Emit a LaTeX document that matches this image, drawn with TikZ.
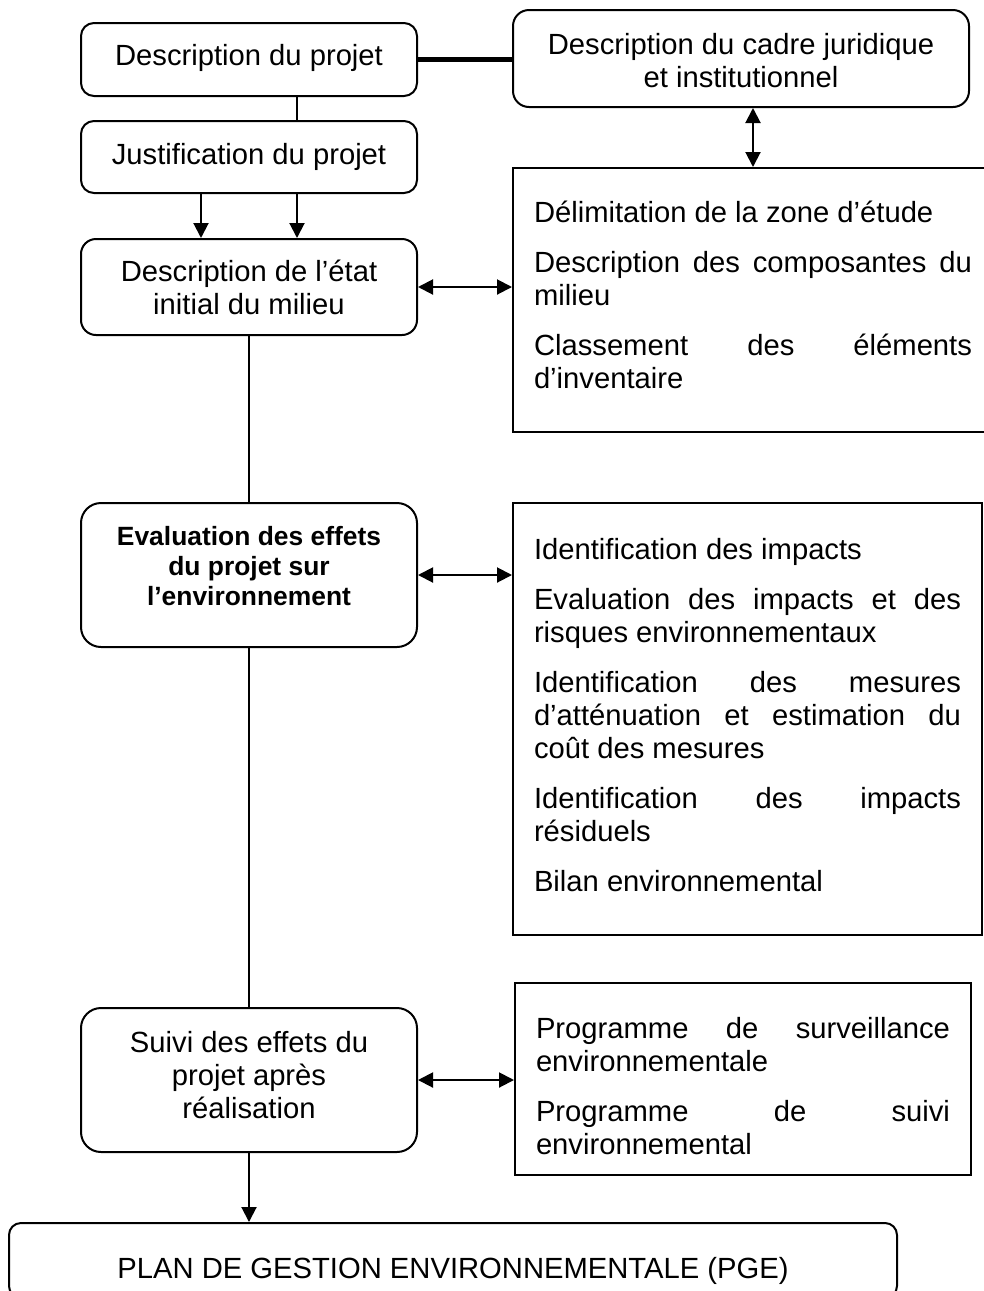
\documentclass[tikz,border=0pt]{standalone}
\usepackage{fontspec}
\setmainfont{Liberation Sans}
\usetikzlibrary{arrows.meta}
\setlength{\parindent}{0pt}
\newcommand{\jline}[2]{\leavevmode\hbox to #1{#2}}
\newcommand{\shiftbox}[2]{\raisebox{#1}[\height][\depth]{#2}}
\tikzset{
  base/.style={font=\fontsize{14.6pt}{16.5pt}\selectfont, line width=1pt, draw=black, inner sep=0pt},
  rbox/.style={base, rectangle, rounded corners=6.5pt, align=center},
  sbox/.style={base, rectangle},
  conn/.style={line width=1pt},
  arr/.style={conn, -{Triangle[length=7.5pt,width=7.5pt]}},
  darr/.style={conn, {Triangle[length=7.5pt,width=7.5pt]}-{Triangle[length=7.5pt,width=7.5pt]}},
  thick line/.style={line width=2.2pt}
}
\begin{document}
\begin{tikzpicture}[x=0.5pt,y=-0.5pt]
\useasboundingbox (0,0) rectangle (984,1291);
\clip (0,0) rectangle (984,1291);
\fill[white] (0,0) rectangle (984,1291);

\node[rbox, minimum width=168pt, minimum height=36.5pt] (A) at (249,59.5)
  {\shiftbox{1pt}{Description du projet}};
\node[rbox, rounded corners=8pt, minimum width=228pt, minimum height=48.5pt] (B) at (741,58.5)
  {\shiftbox{-1pt}{Description du cadre juridique}\\\shiftbox{-1pt}{et institutionnel}};
\node[rbox, minimum width=168pt, minimum height=36pt] (C) at (249,157)
  {Justification du projet};
\node[rbox, rounded corners=7.5pt, minimum width=168pt, minimum height=48pt] (D) at (249,287)
  {Description de l’état\\initial du milieu};
\node[sbox, minimum width=240pt, minimum height=132pt] (E) at (753,300)
  {\shiftbox{2.5pt}{\parbox{219pt}{\raggedright
   Délimitation de la zone d’étude\\[8.5pt]
   \jline{219pt}{Description\hfill des\hfill composantes\hfill du}\\
   milieu\\[8.5pt]
   \jline{219pt}{Classement\hfill des\hfill éléments}\\
   d’inventaire}}};
\node[rbox, rounded corners=10pt, minimum width=168pt, minimum height=72pt,
      font=\fontsize{13.2pt}{15pt}\selectfont\bfseries] (F) at (249,575)
  {Evaluation des effets\\du projet sur\\l’environnement\\[-5.5pt]\mbox{}};
\node[sbox, minimum width=234.5pt, minimum height=216pt] (G) at (747.5,719)
  {\shiftbox{2pt}{\parbox{213.5pt}{\raggedright
   Identification des impacts\\[8.5pt]
   \jline{213.5pt}{Evaluation\hfill des\hfill impacts\hfill et\hfill des}\\
   risques environnementaux\\[8.5pt]
   \jline{213.5pt}{Identification\hfill des\hfill mesures}\\
   \jline{213.5pt}{d’atténuation\hfill et\hfill estimation\hfill du}\\
   coût des mesures\\[8.5pt]
   \jline{213.5pt}{Identification\hfill des\hfill impacts}\\
   résiduels\\[8.5pt]
   Bilan environnemental}}};
\node[rbox, rounded corners=10pt, minimum width=168pt, minimum height=72pt] (H) at (249,1080)
  {Suivi des effets du\\projet après\\réalisation\\[-11pt]\mbox{}};
\node[sbox, minimum width=228pt, minimum height=96pt] (I) at (743,1079)
  {\shiftbox{-3.75pt}{\parbox{207pt}{\raggedright
   \jline{207pt}{Programme\hfill de\hfill surveillance}\\
   environnementale\\[8.5pt]
   \jline{207pt}{Programme\hfill de\hfill suivi}\\
   environnemental}}};
\node[rbox, rounded corners=6pt, minimum width=444pt, minimum height=37.5pt] (J) at (453,1260.5)
  {\shiftbox{-5pt}{PLAN DE GESTION ENVIRONNEMENTALE (PGE)}};

% connectors
\draw[thick line] (A.east) -- (A.east -| B.west);
\draw[conn] ([xshift=24pt]A.south) -- ([xshift=24pt]C.north);
\draw[arr] ([xshift=-24pt]C.south) -- ([xshift=-24pt]D.north);
\draw[arr] ([xshift=24pt]C.south) -- ([xshift=24pt]D.north);
\draw[darr] (E.north |- B.south) -- (E.north);
\draw[darr] (D.east) -- (D.east -| E.west);
\draw[conn] (D.south) -- (F.north);
\draw[darr] (F.east) -- (F.east -| G.west);
\draw[conn] (F.south) -- (H.north);
\draw[darr] (H.east) -- (H.east -| I.west);
\draw[arr] (H.south) -- (H.south |- J.north);
\end{tikzpicture}
\end{document}
